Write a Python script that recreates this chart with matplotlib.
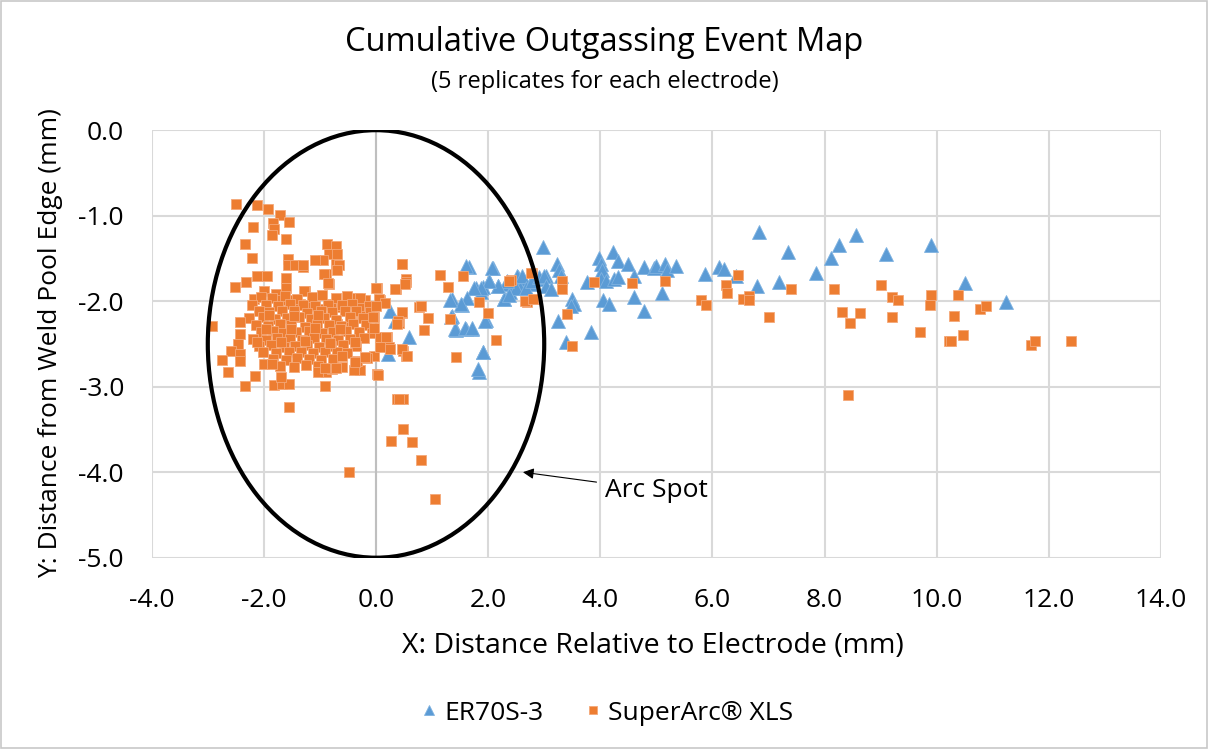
import matplotlib
matplotlib.use("Agg")
import matplotlib.pyplot as plt
from matplotlib.patches import Ellipse, Rectangle

# ---------------- data ----------------
er70_x = [0.25, 0.33, 0.58, 0.22, 1.35, 1.35, 1.43, 1.60, 1.72, 1.53, 1.65, 1.78, 1.91, 1.88,
          2.02, 2.09, 2.18, 2.28, 2.33, 2.39, 1.96, 1.91, 1.83, 2.54, 2.63, 2.57, 2.75, 2.87,
          2.97, 3.04, 3.22, 3.27, 3.30, 2.52, 2.61, 2.49, 2.67, 2.79, 2.91, 3.00, 3.03, 3.12,
          2.29, 2.37, 2.34, 2.17, 2.07, 2.02, 1.87, 1.75, 1.61, 1.63, 1.51, 1.32, 1.34, 1.41,
          1.59, 1.71, 1.95, 1.90, 1.81, 3.50, 3.53, 3.47, 3.24, 3.38, 3.84, 3.77, 3.98, 4.01,
          4.03, 4.01, 4.10, 4.22, 4.31, 4.49, 4.25, 4.31, 4.60, 4.78, 4.96, 4.04, 4.16, 4.61,
          4.78, 4.99, 5.15, 5.19, 5.35, 5.10, 5.87, 6.12, 6.20, 6.42, 6.80, 6.83, 7.19, 7.35,
          7.84, 8.12, 8.25, 8.56, 9.10, 9.89, 10.51, 11.24]
er70_y = [-2.11, -2.23, -2.42, -2.62, -1.98, -2.17, -2.34, -2.32, -2.32, -2.04, -1.60, -1.84,
          -1.83, -1.89, -1.76, -1.61, -1.82, -1.97, -1.80, -1.89, -2.22, -2.60, -2.83, -1.72,
          -1.74, -1.84, -1.80, -1.74, -1.37, -1.70, -1.56, -1.64, -1.70, -1.70, -1.70, -1.84,
          -1.84, -1.76, -1.72, -1.70, -1.82, -1.86, -1.97, -1.93, -1.76, -1.82, -1.61, -1.76,
          -1.84, -1.84, -1.59, -1.96, -2.03, -1.99, -2.19, -2.32, -2.31, -2.31, -2.23, -2.60,
          -2.79, -1.98, -2.03, -2.06, -2.23, -2.48, -2.36, -1.78, -1.49, -1.56, -1.64, -1.74,
          -1.76, -1.43, -1.53, -1.57, -1.74, -1.72, -1.70, -1.60, -1.61, -1.99, -2.03, -1.95,
          -2.11, -1.59, -1.56, -1.63, -1.59, -1.90, -1.68, -1.60, -1.62, -1.71, -1.82, -1.19,
          -1.78, -1.43, -1.67, -1.50, -1.34, -1.23, -1.45, -1.34, -1.79, -2.01]

xls_x = [
    # sparse upper-left points
    -2.49, -2.12, -1.93, -1.71, -1.83, -1.55, -2.19, -1.82, -1.85, -1.61, -2.33, -0.87,
    -0.72, -2.21, -1.57, -0.84, -0.69, -0.94, -0.72, -0.66, -1.57, -1.44, -1.30, -0.90,
    -2.12, -1.95, -1.60, -2.31, -2.52, -0.84, -1.09, -1.31, -0.93, -0.85, -1.27, -0.70,
    # dense cluster
    -2.00, -1.79, -1.61, -1.29, -2.18, -1.70, -1.45, -0.34, -0.19, 0.07, -0.04, -0.31,
    -0.25, -0.45, -0.69, -0.63, -0.81, -1.02, -1.17, -1.35,
    -2.05, -1.86, -1.63, -1.41, -1.14, -0.96, -0.71, -0.52, -0.28,
    -2.21, -1.96, -1.74, -1.53, -1.31, -1.09, -0.86, -0.61, -0.42, -0.13,
    -2.08, -1.91, -1.67, -1.46, -1.23, -0.99, -0.79, -0.56, -0.36, -0.11,
    -2.26, -2.02, -1.81, -1.59, -1.37, -1.16, -0.93, -0.71, -0.47, -0.24,
    -2.14, -1.93, -1.71, -1.51, -1.27, -1.06, -0.84, -0.63, -0.41, -0.17,
    -2.06, -1.84, -1.66, -1.43, -1.19, -0.97, -0.76, -0.54, -0.31, -0.07,
    -2.19, -1.96, -1.76, -1.54, -1.32, -1.11, -0.89, -0.67, -0.46, -0.21,
    -2.09, -1.87, -1.64, -1.44, -1.23, -1.01, -0.81, -0.59, -0.36,
    -2.01, -1.79, -1.56, -1.34, -1.13, -0.91, -0.69, -0.51,
    -1.84, -1.61, -1.41, -1.19, -0.99, -0.77,
    -1.71, -1.46, -1.24, -1.04,
    -1.97, -1.52, -1.08, -0.64, -2.12, -1.69, -1.26, -0.82, -0.38, -1.90, -1.47, -1.03,
    # left / lower edges of the cluster
    -2.92, -2.42, -2.42, -2.46, -2.59, -2.42, -2.74, -2.43, -2.64, -2.15, -2.34, -1.82,
    -1.67, -1.55, -1.70, -2.00, -1.85, -0.91, -1.55, -0.90, -0.78, -0.61, -0.29, 0.01,
    -0.04, -0.16, -0.34, -0.61, 0.07, 0.19, 0.24, 0.48, 0.54, -0.04, -1.04, -0.91, -0.71,
    -0.40, -0.37, -0.20,
    # right of x = 0
    0.47, 0.54, 0.54, 0.35, 0.01, 0.76, 0.47, 0.41, 0.46, 0.52, 0.34, 0.00, 0.05, 0.16,
    0.00, -0.06, 0.46, 0.40, 0.37, 0.80, 0.92, 0.86, 1.15, 1.28, 1.55, 1.32, 1.83, 2.00,
    2.14, 1.43, 0.18, 0.07, 0.25, 0.46, 0.55, 0.04, 0.37, 0.49, 0.48, 0.27, 0.65, 0.80,
    -0.49, 1.05, 0.41, 2.40, 2.69, 2.84, 2.79, 2.76, 2.37, 3.31, 3.31, 2.66, 2.80, 3.41,
    3.50, 3.89, 4.57,
    # far right
    5.15, 5.80, 5.88, 6.24, 6.26, 6.46, 6.55, 6.65, 6.65, 7.00, 7.40, 8.16, 8.31, 8.46,
    8.63, 8.42, 9.00, 9.21, 9.31, 9.20, 9.71, 9.89, 9.88, 10.22, 10.38, 10.30, 10.26,
    10.47, 10.78, 10.88, 11.68, 11.76, 12.40]
xls_y = [
    -0.86, -0.88, -0.92, -0.99, -1.08, -1.07, -1.13, -1.16, -1.23, -1.27, -1.33, -1.33,
    -1.35, -1.50, -1.51, -1.45, -1.45, -1.52, -1.56, -1.58, -1.58, -1.58, -1.60, -1.68,
    -1.70, -1.70, -1.73, -1.78, -1.83, -1.80, -1.52, -1.58, -1.68, -1.79, -1.88, -1.63,
    -1.88, -1.92, -1.84, -1.88, -1.97, -1.99, -1.99, -1.96, -1.99, -1.99, -2.19, -2.07,
    -2.17, -2.23, -2.27, -2.07, -2.03, -2.09, -2.05, -2.03,
    -1.95, -1.96, -1.94, -1.97, -1.95, -1.93, -1.96, -1.94, -1.96,
    -2.05, -2.04, -2.06, -2.03, -2.05, -2.06, -2.04, -2.05, -2.03, -2.06,
    -2.12, -2.13, -2.11, -2.12, -2.14, -2.11, -2.13, -2.12, -2.11, -2.13,
    -2.20, -2.19, -2.21, -2.20, -2.19, -2.21, -2.20, -2.22, -2.19, -2.20,
    -2.28, -2.29, -2.27, -2.28, -2.30, -2.27, -2.28, -2.29, -2.27, -2.28,
    -2.36, -2.35, -2.37, -2.36, -2.35, -2.37, -2.36, -2.35, -2.36, -2.37,
    -2.44, -2.45, -2.43, -2.44, -2.45, -2.43, -2.44, -2.45, -2.44, -2.43,
    -2.52, -2.51, -2.53, -2.52, -2.51, -2.53, -2.52, -2.51, -2.52,
    -2.60, -2.61, -2.59, -2.60, -2.61, -2.59, -2.60, -2.61,
    -2.68, -2.69, -2.67, -2.68, -2.69, -2.68,
    -2.76, -2.77, -2.75, -2.76,
    -2.32, -2.32, -2.31, -2.33, -2.48, -2.48, -2.47, -2.49, -2.48, -2.16, -2.17, -2.16,
    -2.29, -2.24, -2.38, -2.50, -2.58, -2.62, -2.69, -2.70, -2.83, -2.87, -2.99, -2.98,
    -2.97, -2.97, -2.89, -2.73, -2.73, -2.99, -3.24, -2.83, -2.79, -2.77, -2.81, -2.85,
    -2.64, -2.66, -2.70, -2.64, -2.42, -2.42, -2.54, -2.58, -2.64, -2.31, -2.83, -2.78,
    -2.78, -2.81, -2.71, -2.65,
    -1.56, -1.74, -1.78, -1.86, -1.84, -2.07, -2.14, -2.25, -1.56, -1.80, -1.86, -1.84,
    -1.97, -2.02, -2.06, -2.19, -2.13, -2.23, -2.27, -2.06, -2.20, -2.34, -1.69, -1.83,
    -1.71, -2.21, -2.01, -2.14, -2.45, -2.65, -2.42, -2.53, -2.56, -2.56, -2.64, -2.86,
    -3.14, -3.14, -3.49, -3.64, -3.65, -3.86, -4.00, -4.31, -3.14, -1.75, -2.01, -1.98,
    -1.67, -1.67, -1.76, -1.76, -1.86, -2.00, -1.98, -2.15, -2.52, -1.78, -1.79,
    -1.76, -1.99, -2.05, -1.81, -1.91, -1.69, -1.97, -1.94, -1.99, -2.19, -1.86, -1.86,
    -2.13, -2.25, -2.14, -3.10, -1.81, -1.95, -1.99, -2.18, -2.36, -1.93, -2.04, -2.46,
    -1.93, -2.17, -2.47, -2.40, -2.09, -2.06, -2.51, -2.46, -2.47]

series_names = ["ER70S-3", "SuperArc\u00ae XLS"]
x_ticks = [-4, -2, 0, 2, 4, 6, 8, 10, 12, 14]
y_ticks = [0, -1, -2, -3, -4, -5]

BLUE = "#5B9BD5"
ORANGE = "#ED7D31"
FONT = "Open Sans"

fig = plt.figure(figsize=(12.09, 7.49), dpi=100)
ax = fig.add_axes([0.1255, 0.2554, 0.8348, 0.5708])

ax.plot(er70_x, er70_y, linestyle="none", marker="^", markersize=9.5,
        markerfacecolor=BLUE, markeredgecolor="#7fb2e0", markeredgewidth=0.6,
        label=series_names[0], zorder=3)
ax.plot(xls_x, xls_y, linestyle="none", marker="s", markersize=7.6,
        markerfacecolor=ORANGE, markeredgecolor="#f4a878", markeredgewidth=0.6,
        label=series_names[1], zorder=4)

ax.set_xlim(-4, 14)
ax.set_ylim(-5, 0)
ax.set_xticks(x_ticks)
ax.set_yticks(y_ticks)
ax.set_xticklabels([f"{v:.1f}" for v in x_ticks], fontsize=19, family=FONT)
ax.set_yticklabels([f"{v:.1f}" for v in y_ticks], fontsize=19, family=FONT)
ax.tick_params(axis="x", length=0, pad=22)
ax.tick_params(axis="y", length=0, pad=20)
ax.grid(True, color="#d9d9d9", linewidth=1.5, zorder=0)
ax.set_axisbelow(True)
for s in ax.spines.values():
    s.set_visible(False)
ax.axvline(0, color="#bfbfbf", linewidth=1.5, zorder=1)

fig.text(0.5 * (151.7 + 1161) / 1209 - 0.003, 1 - 646 / 749,
         "X: Distance Relative to Electrode (mm)", ha="center", va="center",
         fontsize=20.5, family=FONT)
fig.text(51 / 1209, 1 - 343 / 749, "Y: Distance from Weld Pool Edge (mm)",
         ha="center", va="center", rotation=90, fontsize=19, family=FONT)

ell = Ellipse((0, -2.5), 6.0, 5.0, fill=False, edgecolor="black", linewidth=3.0, zorder=5)
ax.add_patch(ell)
ax.annotate("Arc Spot", xy=(2.62, -4.0), xytext=(4.08, -4.21), fontsize=19, family=FONT,
            va="center", ha="left",
            arrowprops=dict(arrowstyle="-|>", color="black", lw=0.8, mutation_scale=16,
                            shrinkA=4, shrinkB=0), zorder=6)

fig.text(0.5, 0.943, "Cumulative Outgassing Event Map", ha="center", va="center",
         fontsize=23.5, family=FONT)
fig.text(0.5, 0.890, "(5 replicates for each electrode)", ha="center", va="center",
         fontsize=17, family=FONT)

leg = fig.legend(loc="center", bbox_to_anchor=(0.5, 0.048), ncol=2, frameon=False,
                 prop={"family": FONT, "size": 19}, handletextpad=0.05,
                 columnspacing=1.4, markerscale=0.7, handlelength=1.0)

fig.add_artist(Rectangle((0.001, 0.001), 0.997, 0.997, transform=fig.transFigure,
                         fill=False, edgecolor="#c8c8c8", linewidth=1.2))

fig.savefig("out.png", dpi=100)
